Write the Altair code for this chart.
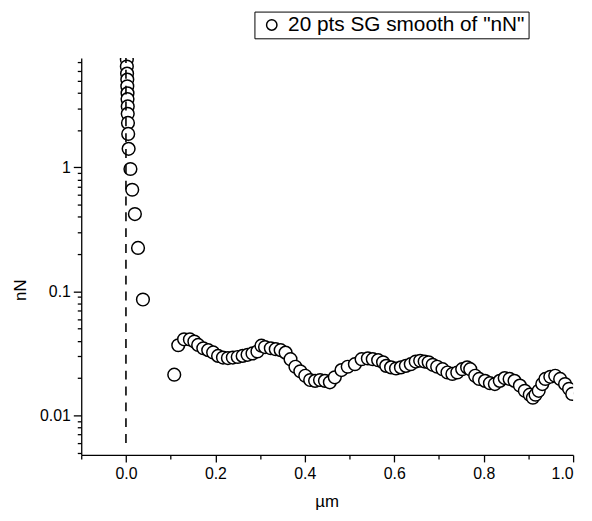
import altair as alt
import pandas as pd

# ---- data (x in µm, y in nN) ----
x_vals = [0.002, 0.002, 0.002, 0.0025, 0.003, 0.003, 0.0035, 0.0035, 0.004, 0.004, 0.0045, 0.005, 0.006,
          0.010, 0.014, 0.020, 0.027, 0.038,
          0.108, 0.117, 0.130, 0.143, 0.153, 0.1615, 0.173, 0.184, 0.195, 0.206, 0.217, 0.228,
          0.239, 0.250, 0.261, 0.272, 0.283, 0.294, 0.303, 0.311, 0.324, 0.335, 0.346, 0.357,
          0.368, 0.379, 0.390, 0.401, 0.412, 0.423, 0.434, 0.445, 0.456, 0.467, 0.482, 0.496,
          0.512, 0.527, 0.541, 0.552, 0.564, 0.575, 0.582, 0.593, 0.604, 0.615, 0.626, 0.637,
          0.648, 0.658, 0.668, 0.677, 0.686, 0.696, 0.708, 0.719, 0.730, 0.741, 0.752, 0.763,
          0.770, 0.781, 0.790, 0.803, 0.814, 0.825, 0.836, 0.847, 0.858, 0.869, 0.881, 0.892,
          0.903, 0.910, 0.916, 0.923, 0.931, 0.938, 0.949, 0.960, 0.971, 0.982, 0.991, 0.998]
y_vals = [8.3, 7.4, 6.5, 5.7, 5.1, 4.5, 3.95, 3.55, 3.1, 2.7, 2.28, 1.86, 1.41,
          0.97, 0.66, 0.42, 0.224, 0.086,
          0.0213, 0.0368, 0.0411, 0.0410, 0.0394, 0.0370, 0.0348, 0.0336, 0.0322, 0.0302, 0.0293, 0.0290,
          0.0293, 0.0296, 0.0302, 0.0308, 0.0316, 0.0328, 0.0365, 0.0356, 0.0348, 0.0342, 0.0336, 0.0321,
          0.0284, 0.0247, 0.0227, 0.0209, 0.0193, 0.0190, 0.0193, 0.0190, 0.0185, 0.0203, 0.0232, 0.0247,
          0.0259, 0.0284, 0.0288, 0.0284, 0.0279, 0.0268, 0.0251, 0.0244, 0.0239, 0.0244, 0.0251, 0.0259,
          0.0272, 0.0276, 0.0272, 0.0268, 0.0256, 0.0247, 0.0236, 0.0222, 0.0216, 0.0222, 0.0236, 0.0244,
          0.0236, 0.0209, 0.0197, 0.0190, 0.0182, 0.0179, 0.0190, 0.0200, 0.0197, 0.0190, 0.0174, 0.0158,
          0.0147, 0.0139, 0.0147, 0.0158, 0.0179, 0.0197, 0.0205, 0.0209, 0.0197, 0.0179, 0.0164, 0.0149]
series_name = '20 pts SG smooth of "nN"'

# dashed contact line
contact_x = [0.0, 0.0]
contact_y = [0.006, 9.0]

x_domain = [-0.1, 1.0]
y_domain = [0.0048, 7.6]
x_ticks = [-0.1, 0.0, 0.1, 0.2, 0.3, 0.4, 0.5, 0.6, 0.7, 0.8, 0.9, 1.0]
y_ticks = [0.005, 0.006, 0.007, 0.008, 0.009, 0.01,
           0.02, 0.03, 0.04, 0.05, 0.06, 0.07, 0.08, 0.09, 0.1,
           0.2, 0.3, 0.4, 0.5, 0.6, 0.7, 0.8, 0.9, 1,
           2, 3, 4, 5, 6, 7]

pts = pd.DataFrame({"x": x_vals, "y": y_vals, "series": series_name})
line_df = pd.DataFrame({"x": contact_x, "y": contact_y})

FONT = "Liberation Sans"
xs = alt.Scale(domain=x_domain, nice=False, zero=False)
ys = alt.Scale(type="log", domain=y_domain, nice=False)

x_major_test = "abs(round(datum.value * 10)) % 2 == 0"
y_major_test = "indexof([0.01, 0.1, 1], datum.value) >= 0"

x_axis = alt.Axis(
    values=x_ticks, title="µm", orient="bottom",
    labelExpr=f"{x_major_test} ? format(datum.value, '.1f') : ''",
    tickSize={"condition": {"test": x_major_test, "value": 7}, "value": 4},
    labelPadding=4, labelOverlap=False,
    titleX=248, titleY=47, titleBaseline="middle",
)
y_axis = alt.Axis(
    values=y_ticks, title="nN", orient="left",
    labelExpr=f"{y_major_test} ? format(datum.value, '~g') : ''",
    tickSize={"condition": {"test": y_major_test, "value": 8}, "value": 4},
    labelPadding=3, labelOverlap=False,
    titleX=-61, titleY=234, titleAngle=-90, titleBaseline="middle",
)

points = alt.Chart(pts).mark_point(
    shape="circle", filled=True, fill="white", size=165, strokeWidth=1.5, opacity=1, clip=True
).encode(
    x=alt.X("x:Q", scale=xs, axis=x_axis),
    y=alt.Y("y:Q", scale=ys, axis=y_axis),
    stroke=alt.Stroke("series:N", scale=alt.Scale(range=["black"]), legend=alt.Legend(
        title=None, orient="none", legendX=175, legendY=-47, strokeColor="black",
        padding=3, symbolType="circle", symbolSize=110, symbolFillColor="white",
        symbolStrokeWidth=1.5, labelFontSize=21, labelFont=FONT, labelOffset=6,
        symbolOffset=4, cornerRadius=0, fillColor="white", labelLimit=500)),
)

contact = alt.Chart(line_df).mark_line(
    color="black", strokeDash=[9, 7], strokeWidth=1.6, clip=True
).encode(
    x=alt.X("x:Q", scale=xs),
    y=alt.Y("y:Q", scale=ys),
)

chart = alt.layer(points, contact).properties(
    width=497, height=401,
    autosize=alt.AutoSizeParams(type="none"),
    padding={"left": 74, "top": 48, "right": 11, "bottom": 56},
).configure_view(stroke=None).configure_axis(
    grid=False, domainColor="black", tickColor="black", domainWidth=1.3, tickWidth=1.3,
    labelFont=FONT, labelFontSize=16, labelColor="black",
    titleFont=FONT, titleFontSize=17, titleFontWeight="normal", titleColor="black",
)

chart.save("out.html", embed_options={"renderer": "svg", "actions": False})
